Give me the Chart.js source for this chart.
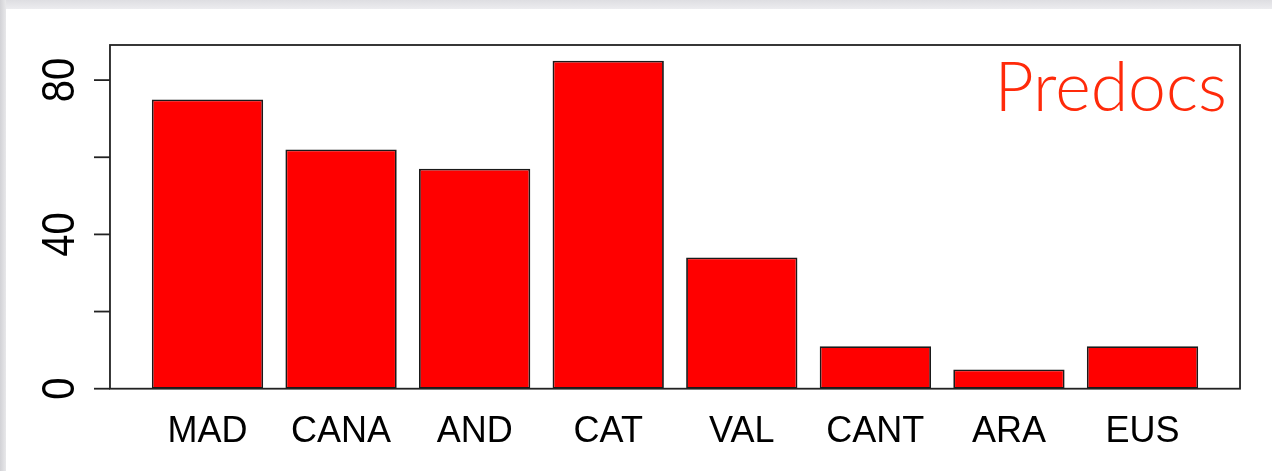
<!DOCTYPE html>
<html>
<head>
<meta charset="utf-8">
<script src="https://cdn.jsdelivr.net/npm/chart.js@4.4.1/dist/chart.umd.min.js"></script>
<style>
  html, body { margin:0; padding:0; background:#fff; }
  #wrap { position:relative; width:1272px; height:471px; overflow:hidden; background:#fff; }
  .edgeTop { position:absolute; left:0; top:0; width:1272px; height:9px;
    background:linear-gradient(#dedee2, #ececef); }
  .edgeLeft { position:absolute; left:0; top:0; width:6px; height:471px;
    background:linear-gradient(90deg, #d2d2d6, #e8e8ea); }
  canvas { position:absolute; left:0; top:0; }
</style>
</head>
<body>
<div id="wrap">
  <div class="edgeTop"></div>
  <div class="edgeLeft"></div>
  <canvas id="chart" width="1272" height="471"></canvas>
</div>
<script>
// data
const regions = ['MAD', 'CANA', 'AND', 'CAT', 'VAL', 'CANT', 'ARA', 'EUS'];
const predocs = [75, 62, 57, 85, 34, 11, 5, 11];
const yTicks = [0, 20, 40, 60, 80];
const yTickLabels = ['0', '', '40', '', '80'];
const title = 'Predocs';

// R-style frame: box around plot, ticks + rotated labels on the left, title top right
const rFrame = {
  id: 'rFrame',
  afterDatasetsDraw(chart){
    const {ctx, chartArea:a, scales:{y}} = chart;
    const slot = a.width / regions.length;
    const ext = slot * 0.276 / 1.2;   // barplot xlim padding (4%)
    const L = a.left - ext, R = a.right + ext;
    const T = a.top, B = y.getPixelForValue(0);
    ctx.save();
    ctx.strokeStyle = '#222';
    ctx.lineWidth = 1.8;
    ctx.strokeRect(L, T, R - L, B - T);
    ctx.fillStyle = '#000';
    ctx.font = '40px "Liberation Sans", Arial, sans-serif';
    ctx.textAlign = 'center';
    ctx.textBaseline = 'alphabetic';
    yTicks.forEach((v, i) => {
      const py = y.getPixelForValue(v);
      ctx.beginPath();
      ctx.moveTo(L - 16, py);
      ctx.lineTo(L, py);
      ctx.stroke();
      if(yTickLabels[i]){
        ctx.save();
        ctx.translate(L - 36, py);
        ctx.rotate(-Math.PI/2);
        ctx.scale(1, 1.15);  // source glyphs look a bit stretched
        ctx.fillText(yTickLabels[i], 0, 0);
        ctx.restore();
      }
    });
    ctx.fillStyle = '#ff2a0a';
    ctx.font = '300 68px Lato, "Open Sans", sans-serif';
    ctx.textAlign = 'right';
    ctx.fillText(title, R - 13, T + 66);
    ctx.restore();
  }
};

new Chart(document.getElementById('chart'), {
  type: 'bar',
  data: {
    labels: regions,
    datasets: [{
      data: predocs,
      backgroundColor: '#ff0000',
      borderColor: '#1a1a1a',
      borderWidth: 1.8,
      borderSkipped: false,
      categoryPercentage: 1,
      barPercentage: 1/1.2
    }]
  },
  options: {
    responsive: false,
    animation: false,
    events: [],
    layout: { padding: { left: 140.7, right: 62.7, top: 45, bottom: 0 } },
    plugins: { legend: { display:false }, tooltip: { enabled:false } },
    scales: {
      x: {
        grid: { display:false, drawTicks:false },
        border: { display:false },
        ticks: {
          color: '#000',
          padding: 22,
          maxRotation: 0,
          autoSkip: false,
          font: { family: '"Liberation Sans", Arial, sans-serif', size: 36 }
        },
        afterFit: s => { s.height = 82.3; }
      },
      y: {
        display: false,
        min: 0,
        max: 89.1
      }
    }
  },
  plugins: [rFrame]
});
</script>
</body>
</html>
